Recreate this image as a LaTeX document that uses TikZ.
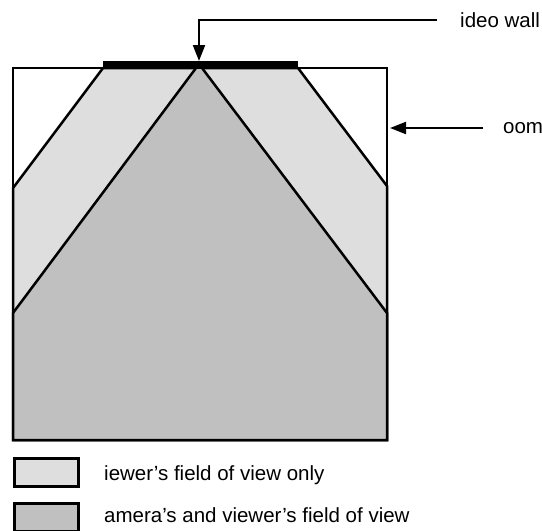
\documentclass[tikz,border=0pt]{standalone}
\usepackage{fontspec}
\setmainfont{Liberation Sans}
\usetikzlibrary{arrows.meta}
\definecolor{lightfov}{HTML}{DEDEDE}
\definecolor{darkfov}{HTML}{C0C0C0}
\begin{document}
\begin{tikzpicture}[x=1pt,y=-1pt,
  wall/.style={line width=2.5pt,line join=miter},
  pointer/.style={line width=2pt,-{Triangle[length=16pt,width=12pt]}},
  lbl/.style={anchor=base west,inner sep=0pt,font=\fontsize{20.5}{24}\selectfont},
  legbox/.style={draw,line width=2.5pt,minimum width=64pt,minimum height=28pt,inner sep=0pt,anchor=north west}]
\useasboundingbox (0,0) rectangle (542,531);
% room geometry
\coordinate (TL) at (13,68);
\coordinate (TR) at (387,68);
\coordinate (BL) at (13,440);
\coordinate (BR) at (387,440);
\coordinate (WL) at (103,68);
\coordinate (WR) at (298,68);
\coordinate (apex) at (199,64);
\coordinate (LL) at (13,188);
\coordinate (LR) at (387,186);
\coordinate (DL) at (13,313);
\coordinate (DR) at (387,313);
% viewer's field of view
\filldraw[wall,fill=lightfov] (WL) -- (WR) -- (LR) -- (BR) -- (BL) -- (LL) -- cycle;
% camera's and viewer's field of view
\filldraw[wall,fill=darkfov] (apex) -- (DR) -- (BR) -- (BL) -- (DL) -- cycle;
% room
\draw[wall] (TL) rectangle (BR);
% video wall
\fill (103,61) rectangle (298,68);
\coordinate (wallmid) at (199,61);
% labels
\node[lbl] (vwlabel) at (460,27) {ideo wall};
\node[lbl] (roomlabel) at (503,133) {oom};
\coordinate (vwstart) at (437,20);
\coordinate (vwcorner) at (199,20);
\coordinate (roomstart) at (483,128);
\coordinate (roomtip) at (390,128);
\draw[pointer] (vwstart) -- (vwcorner) -- (wallmid);
\draw[pointer] (roomstart) -- (roomtip);
% legend
\node[legbox,fill=lightfov] (leg1) at (13,457) {};
\node[legbox,fill=darkfov] (leg2) at (13,502) {};
\node[lbl] (leg1text) at (104,480) {iewer’s field of view only};
\node[lbl] (leg2text) at (104,522) {amera’s and viewer’s field of view};
\end{tikzpicture}
\end{document}
